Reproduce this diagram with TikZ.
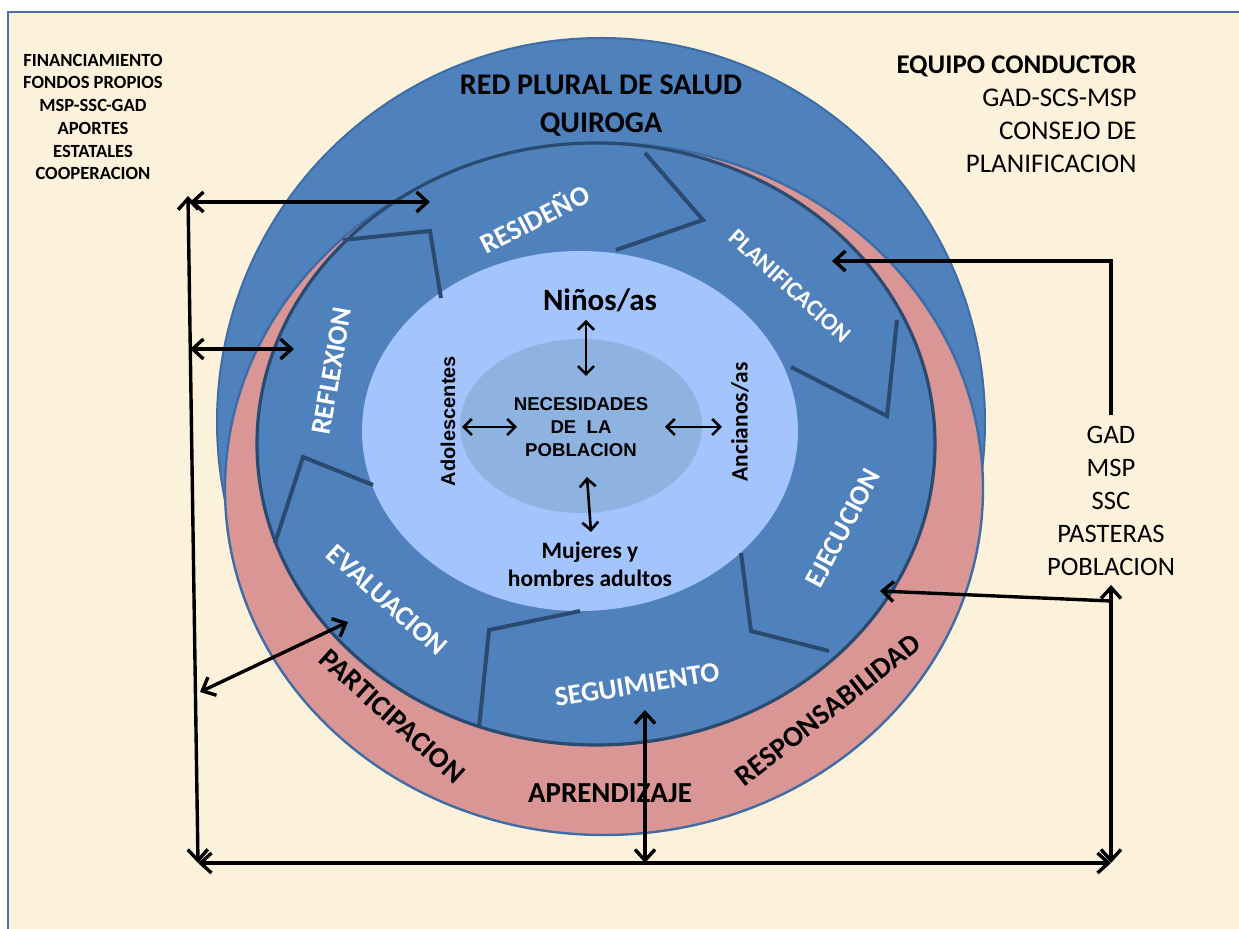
\documentclass[tikz,border=0pt]{standalone}
\usepackage{fontspec}
\setmainfont{Carlito}
\newfontfamily\arialf{Liberation Sans}
\usetikzlibrary{arrows.meta}
\definecolor{bg}{RGB}{252,242,220}
\definecolor{framec}{RGB}{79,111,168}
\definecolor{oblue}{RGB}{79,129,189}
\definecolor{oline}{RGB}{62,108,165}
\definecolor{pinkc}{RGB}{217,150,148}
\definecolor{navy}{RGB}{42,74,112}
\definecolor{lblue}{RGB}{163,196,252}
\definecolor{iblue}{RGB}{142,179,225}
\tikzset{
  hd/.tip={Straight Barb[length=5.5pt,width=10pt,line width=1.7pt]},
  shd/.tip={Straight Barb[length=4pt,width=8pt,line width=1.3pt]},
  bigarr/.style={line width=1.7pt,black},
  smallarr/.style={line width=1.3pt,black,shd-shd},
  divider/.style={navy,line width=2pt,line join=miter},
  cyc/.style={text=white,font=\bfseries\fontsize{14}{16}\selectfont,inner sep=0pt},
  pk/.style={text=black,font=\bfseries\fontsize{14.5}{17}\selectfont,inner sep=0pt}
}
\begin{document}
\begin{tikzpicture}[x=0.5pt,y=-0.5pt]
\useasboundingbox (0,0) rectangle (1239,929);
\fill[white] (0,0) rectangle (1239,929);
\fill[bg] (8,12) rectangle (1250,940);
\draw[framec,line width=1pt] (1250,12) -- (8,12) -- (8,940);

% circles
\draw[fill=oblue,draw=oline,line width=1pt] (601,422) ellipse [x radius=192pt,y radius=192pt];
\draw[fill=pinkc,draw=oline,line width=1.2pt] (604,489) ellipse [x radius=189.5pt,y radius=173pt];
\draw[fill=oblue,draw=navy,line width=1.6pt] (596,444) ellipse [x radius=169.5pt,y radius=150.5pt];
\fill[lblue] (580,431) ellipse [x radius=109pt,y radius=90pt];
\fill[iblue] (581,426) ellipse [x radius=60.5pt,y radius=43.5pt];

% dividers
\draw[divider] (645,153) -- (703,220) -- (616,250);
\draw[divider] (897,320) -- (887,416) -- (791,367);
\draw[divider] (741,553) -- (751,631) -- (829,651);
\draw[divider] (580,611) -- (489,630) -- (479,728);
\draw[divider] (373,485) -- (303,457) -- (275,543);
\draw[divider] (343,240) -- (430,231) -- (441,298);

% texts
\node[font=\bfseries\fontsize{15}{19}\selectfont,align=center,inner sep=0pt] (red) at (601,106) {RED PLURAL DE SALUD\\QUIROGA};
\node[font=\fontsize{13.5}{16.5}\selectfont,align=right,anchor=east,inner sep=0pt] (equipo) at (1137,114) {\textbf{EQUIPO CONDUCTOR}\\GAD-SCS-MSP\\CONSEJO DE\\PLANIFICACION};
\node[font=\bfseries\fontsize{9.3}{11.35}\selectfont,align=center,inner sep=0pt] (fin) at (93,117) {FINANCIAMIENTO\\FONDOS PROPIOS\\MSP-SSC-GAD\\APORTES\\ESTATALES\\COOPERACION};
\node[font=\fontsize{13.3}{16.5}\selectfont,align=center,inner sep=0pt] (gad) at (1111,501) {GAD\\MSP\\SSC\\PASTERAS\\POBLACION};

\node[font=\bfseries\fontsize{15.5}{18}\selectfont,inner sep=0pt] (nin) at (600,300) {Niños/as};
\node[font=\arialf\bfseries\fontsize{9.3}{11.5}\selectfont,align=center,inner sep=0pt] (nec) at (581,427) {NECESIDADES\\DE~~LA\\POBLACION};
\node[font=\arialf\bfseries\fontsize{10}{12}\selectfont,rotate=90,inner sep=0pt] (ado) at (448,421) {Adolescentes};
\node[font=\bfseries\fontsize{11.75}{14}\selectfont,rotate=90,inner sep=0pt] (anc) at (740,422) {Ancianos/as};
\node[font=\bfseries\fontsize{11.75}{14}\selectfont,align=center,inner sep=0pt] (muj) at (590,564) {Mujeres y\\hombres adultos};

\node[cyc,rotate=27] (resi) at (534,218) {RESIDEÑO};
\node[cyc,rotate=-42,font=\bfseries\fontsize{12}{14}\selectfont] (plan) at (790,286) {PLANIFICACION};
\node[cyc,rotate=62] (ejec) at (843,528) {EJECUCION};
\node[cyc,rotate=9] (segu) at (637,685) {SEGUIMIENTO};
\node[cyc,rotate=-42] (eval) at (387,600) {EVALUACION};
\node[cyc,rotate=80] (refl) at (332,371) {REFLEXION};

\node[pk,rotate=-42] (part) at (392,716) {PARTICIPACION};
\node[pk] (apre) at (610,793) {APRENDIZAJE};
\node[pk,rotate=38] (resp) at (828,710) {RESPONSABILIDAD};

% arrow coordinates
\coordinate (tl) at (188,196);
\coordinate (bl) at (198,863);
\coordinate (br) at (1111,863);
\coordinate (bm) at (645,863);
\coordinate (a1e) at (430,202);
\coordinate (a1s) at (190,202);
\coordinate (a3s) at (190,349);
\coordinate (a3e) at (294,349);
\coordinate (a4s) at (200,692);
\coordinate (a4e) at (348,622);
\coordinate (a6s) at (645,710);
\coordinate (r7t) at (1111,585);
\coordinate (r8s) at (1111,601);
\coordinate (r8e) at (880,591);
\coordinate (r9s) at (1111,415);
\coordinate (r9c) at (1111,261);
\coordinate (r9e) at (832,261);

\draw[bigarr,hd-hd] (a1s) -- (a1e);
\draw[bigarr,hd-hd] (tl) -- (bl);
\draw[bigarr,hd-hd] (a3s) -- (a3e);
\draw[bigarr,hd-hd] (a4s) -- (a4e);
\draw[bigarr,hd-hd] (bl) -- (br);
\draw[bigarr,hd-hd] (a6s) -- (bm);
\draw[bigarr,hd-hd] (r7t) -- (br);
\draw[bigarr,-hd] (r8s) -- (r8e);
\draw[bigarr,-hd] (r9s) -- (r9c) -- (r9e);

% inner arrows
\coordinate (i1a) at (586,320);
\coordinate (i1b) at (586,376);
\coordinate (i2a) at (587,477);
\coordinate (i2b) at (591,532);
\coordinate (i3a) at (462,427);
\coordinate (i3b) at (517,427);
\coordinate (i4a) at (665,427);
\coordinate (i4b) at (722,427);
\draw[smallarr] (i1a) -- (i1b);
\draw[smallarr] (i2a) -- (i2b);
\draw[smallarr] (i3a) -- (i3b);
\draw[smallarr] (i4a) -- (i4b);
\end{tikzpicture}
\end{document}
